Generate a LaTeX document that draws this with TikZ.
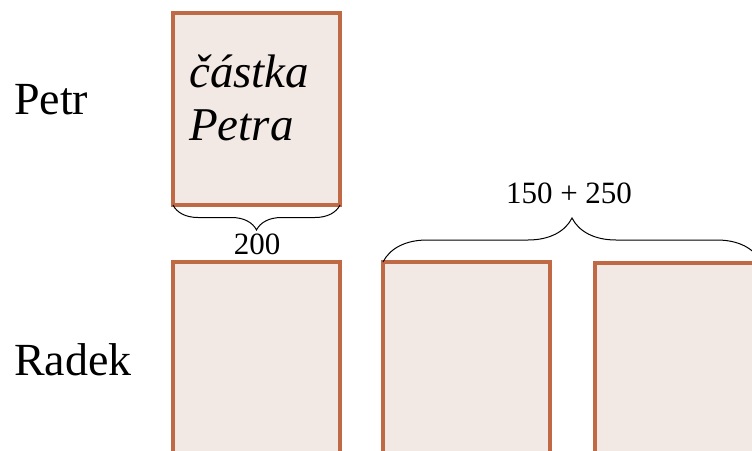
\documentclass[tikz,border=0pt]{standalone}
\usepackage{fontspec}
\setmainfont{Liberation Serif}
\usetikzlibrary{decorations.pathreplacing}
\definecolor{barfill}{HTML}{F3E9E4}
\definecolor{barline}{HTML}{C06A45}
\tikzset{
  bar/.style={draw=barline, fill=barfill, line width=3.5pt, minimum width=167pt,
              inner sep=0pt, outer sep=0pt, anchor=north west},
  rowlabel/.style={font=\fontsize{46}{50}\selectfont, anchor=west, inner sep=0pt},
  num/.style={font=\fontsize{31}{34}\selectfont, inner sep=0pt},
  curly/.style={draw=black, line width=1pt, decorate}
}
\begin{document}
\begin{tikzpicture}[x=1pt, y=-1pt]
  \useasboundingbox (0,0) rectangle (752,450);
  \clip (0,0) rectangle (752,450);
  % bars
  \node[bar, minimum height=192pt] (petr) at (173,13) {};
  \node[bar, minimum height=220pt] (r1) at (173,262) {};
  \node[bar, minimum height=220pt] (r2) at (383,262) {};
  \node[bar, minimum height=220pt] (r3) at (595,263) {};
  % text inside Petr's bar
  \node[anchor=west, inner sep=0pt, align=left,
        font=\fontsize{47}{53}\selectfont\itshape] (cast) at (189,98) {částka\\Petra};
  % row labels
  \node[rowlabel] (lp) at (14,100) {Petr};
  \node[rowlabel] (lr) at (14,360) {Radek};
  % braces
  \draw[curly, decoration={brace, amplitude=25pt}] (petr.south east) -- (petr.south west);
  \node[num] (n200) at (257,244) {200};
  \coordinate (bl) at (383,262);
  \coordinate (br) at (761,262);
  \draw[curly, decoration={brace, amplitude=44pt, aspect=0.5}] (bl) -- (br);
  \node[num] (nsum) at (569,193) {150 + 250};
\end{tikzpicture}
\end{document}
